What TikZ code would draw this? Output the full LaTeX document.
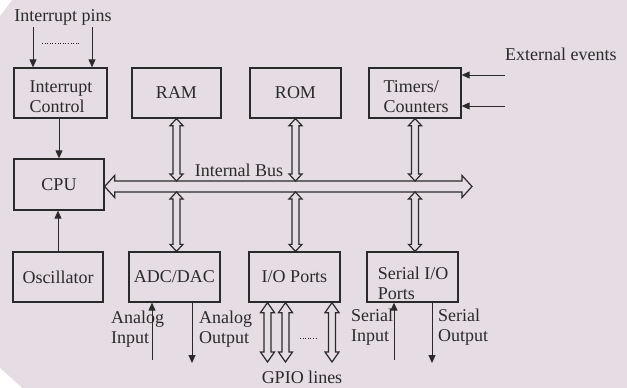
\documentclass[tikz,border=0pt]{standalone}
\usepackage{fontspec}
\setmainfont{Liberation Serif}
\usetikzlibrary{arrows.meta,calc}
\definecolor{bg}{RGB}{229,221,227}
\definecolor{ink}{RGB}{42,42,42}
% hollow double-headed arrow, vertical: #1 top point, #2 bottom point, #3 shaft half width, #4 head half width, #5 head length
\newcommand\vdbl[5]{%
  \draw[busline] (#1) -- ($(#1)+(#4,#5)$) -- ($(#1)+(#3,#5)$) -- ($(#2)+(#3,-#5)$) -- ($(#2)+(#4,-#5)$) -- (#2)
   -- ($(#2)+(-#4,-#5)$) -- ($(#2)+(-#3,-#5)$) -- ($(#1)+(-#3,#5)$) -- ($(#1)+(-#4,#5)$) -- cycle;}
% hollow double-headed arrow, horizontal: #1 left, #2 right
\newcommand\hdbl[5]{%
  \draw[busline] (#1) -- ($(#1)+(#5,-#4)$) -- ($(#1)+(#5,-#3)$) -- ($(#2)+(-#5,-#3)$) -- ($(#2)+(-#5,-#4)$) -- (#2)
   -- ($(#2)+(-#5,#4)$) -- ($(#2)+(-#5,#3)$) -- ($(#1)+(#5,#3)$) -- ($(#1)+(#5,#4)$) -- cycle;}
\begin{document}
\begin{tikzpicture}[x=1pt,y=-1pt,
  every node/.style={font=\fontsize{18}{20}\selectfont, text=ink},
  box/.style={draw=ink, line width=1.3pt, minimum width=91pt, minimum height=50pt, align=left, inner sep=2pt},
  boxtext/.style={align=left, inner sep=0pt},
  sig/.style={draw=ink, line width=1pt, -{Triangle[length=8pt,width=7pt]}},
  busline/.style={draw=ink, line width=1.2pt, fill=bg, line join=miter},
  dots/.style={draw=ink, line width=0.6pt, dotted},
  lbl/.style={align=left, inner sep=0pt, anchor=west}]
% background
\fill[bg] (0,0) rectangle (627,388);
\fill[white] (0,0) -- (12,0) -- (0,16) -- cycle;
\fill[white] (0,368) -- (22,388) -- (0,388) -- cycle;
\useasboundingbox (0,0) rectangle (627,388);

% boxes
\node[box, minimum width=93pt] (intc) at (60.5,93) {};
\node[boxtext] (intct) at (61,97) {Interrupt\\Control};
\node[box, minimum width=89pt] (ram) at (176.5,93) {RAM};
\node[box] (rom) at (295.5,93) {ROM};
\node[box, minimum width=92pt] (tim) at (415,93) {};
\node[boxtext] (timt) at (416,97) {Timers/\\Counters};
\node[box, minimum width=90pt, minimum height=51pt] (cpu) at (59,184.5) {CPU};
\node[box, minimum width=90pt] (osc) at (58,277) {Oscillator};
\node[box] (adc) at (174.5,277) {ADC/DAC};
\node[box] (io) at (294.5,277) {I/O Ports};
\node[box] (ser) at (412.5,277) {};
\node[boxtext] (sert) at (413,283) {Serial I/O\\Ports};

% texts
\node (ipins) at (63,17) {Interrupt pins};
\node[lbl] (ext) at (505,54) {External events};
\node (ibus) at (239,170) {Internal Bus};
\node[lbl] (ain) at (111,329) {Analog\\Input};
\node[lbl] (aout) at (199,329) {Analog\\Output};
\node[lbl] (sin) at (351,327) {Serial\\Input};
\node[lbl] (sout) at (438,327) {Serial\\Output};
\node (gpio) at (302,377) {GPIO lines};

% interrupt pins
\coordinate (ip1) at (33,27);
\coordinate (ip2) at (92,27);
\draw[sig] (ip1) -- (ip1 |- intc.north);
\draw[sig] (ip2) -- (ip2 |- intc.north);
\draw[dots] (42,43) -- (80,43);

% external events
\coordinate (ev1) at (505,75);
\coordinate (ev2) at (505,106);
\draw[sig] (ev1) -- (ev1 -| tim.east);
\draw[sig] (ev2) -- (ev2 -| tim.east);

% CPU links
\draw[sig] (intc.south -| cpu.north) -- (cpu.north);
\draw[sig] (osc.north) -- (osc.north |- cpu.south);

% internal bus
\coordinate (busL) at (cpu.east |- 0,186.5);
\coordinate (busR) at (472,186.5);
\hdbl{busL}{busR}{5.5}{11}{10}
\coordinate (bt) at (0,181);
\coordinate (bb) at (0,192);

% vertical bus links
\coordinate (r1) at (ram.south |- bt);
\coordinate (r2) at (rom.south |- bt);
\coordinate (r3) at (tim.south |- bt);
\vdbl{ram.south}{r1}{3.5}{6.5}{7}
\vdbl{rom.south}{r2}{3.5}{6.5}{7}
\vdbl{tim.south}{r3}{3.5}{6.5}{7}
\coordinate (s1) at (ram.south |- bb);
\coordinate (s2) at (rom.south |- bb);
\coordinate (s3) at (tim.south |- bb);
\coordinate (d1) at (ram.south |- adc.north);
\coordinate (d2) at (rom.south |- io.north);
\coordinate (d3) at (tim.south |- ser.north);
\vdbl{s1}{d1}{3.5}{6.5}{7}
\vdbl{s2}{d2}{3.5}{6.5}{7}
\vdbl{s3}{d3}{3.5}{6.5}{7}

% analog
\coordinate (ai) at (152,360);
\coordinate (ao) at (192,363);
\draw[sig] (ai) -- (ai |- adc.south);
\draw[sig] (ao |- adc.south) -- (ao);

% serial
\coordinate (si) at (394,360);
\coordinate (so) at (432,363);
\draw[sig] (si) -- (si |- ser.south);
\draw[sig] (so |- ser.south) -- (so);

% GPIO
\coordinate (g1t) at (267.5,302); \coordinate (g1b) at (267.5,362);
\coordinate (g2t) at (285.5,302); \coordinate (g2b) at (285.5,362);
\coordinate (g3t) at (332,302);   \coordinate (g3b) at (332,362);
\vdbl{g1t |- io.south}{g1b}{3.5}{7}{10}
\vdbl{g2t |- io.south}{g2b}{3.5}{7}{10}
\vdbl{g3t |- io.south}{g3b}{3.5}{7}{10}
\draw[dots] (300,338) -- (318,338);
\end{tikzpicture}
\end{document}
